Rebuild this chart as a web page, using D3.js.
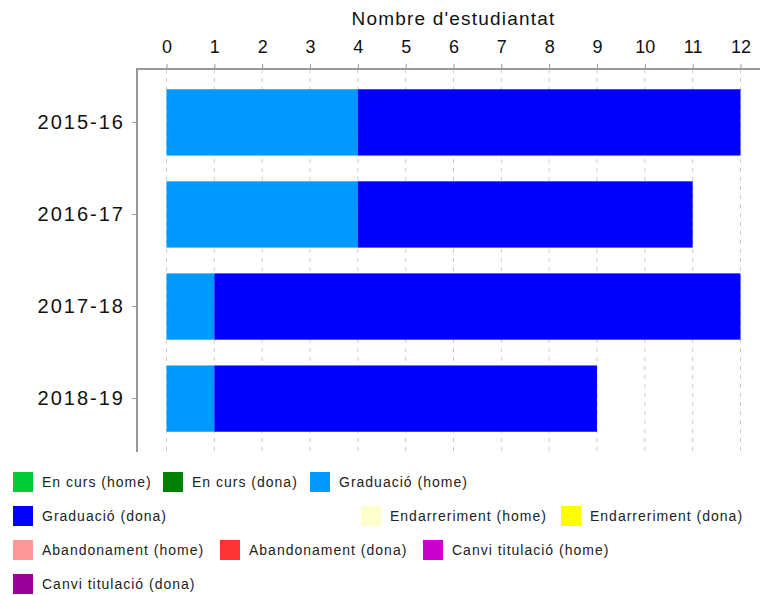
<!DOCTYPE html>
<html>
<head>
<meta charset="utf-8">
<script src="https://cdn.jsdelivr.net/npm/d3@7"></script>
<style>
  body { margin: 0; background: #fff; }
  text { font-family: "Liberation Sans", Arial, sans-serif; fill: #222; }
</style>
</head>
<body>
<div id="chart"></div>
<script>
// data
const years = ["2015-16", "2016-17", "2017-18", "2018-19"];
const seriesKeys = [
    "En curs (home)", "En curs (dona)", "Graduació (home)", "Graduació (dona)",
    "Endarreriment (home)", "Endarreriment (dona)", "Abandonament (home)",
    "Abandonament (dona)", "Canvi titulació (home)", "Canvi titulació (dona)"
];
const seriesColors = [
    "#00CC33", "#008000", "#0099FF", "#0000FF", "#FFFFCC",
    "#FFFF00", "#FF9999", "#FF3333", "#CC00CC", "#990099"
];
const enCursHome = [0, 0, 0, 0];
const enCursDona = [0, 0, 0, 0];
const graduacioHome = [4, 4, 1, 1];
const graduacioDona = [8, 7, 11, 8];
const endarrerimentHome = [0, 0, 0, 0];
const endarrerimentDona = [0, 0, 0, 0];
const abandonamentHome = [0, 0, 0, 0];
const abandonamentDona = [0, 0, 0, 0];
const canviHome = [0, 0, 0, 0];
const canviDona = [0, 0, 0, 0];
const xTicks = [0, 1, 2, 3, 4, 5, 6, 7, 8, 9, 10, 11, 12];
const axisTitle = "Nombre d'estudiantat";

const seriesValues = [enCursHome, enCursDona, graduacioHome, graduacioDona,
    endarrerimentHome, endarrerimentDona, abandonamentHome, abandonamentDona,
    canviHome, canviDona];

const rows = years.map((y, i) => {
    const r = { year: y };
    seriesKeys.forEach((k, j) => r[k] = seriesValues[j][i]);
    return r;
});

const width = 760, height = 595;
const plotLeft = 137, plotTop = 69, plotRight = 740.5, plotBottom = 452;

const svg = d3.select("#chart").append("svg")
    .attr("width", width)
    .attr("height", height);

const x = d3.scaleLinear().domain([0, 12]).range([166.5, plotRight]);
const y = d3.scaleBand().domain(years).range([plotTop, plotBottom])
    .paddingInner(0.28).paddingOuter(0.22);

// grid lines
svg.append("g").selectAll("line")
    .data(xTicks)
    .enter().append("line")
    .attr("x1", d => x(d)).attr("x2", d => x(d))
    .attr("y1", plotTop).attr("y2", plotBottom)
    .attr("stroke", "#ccc")
    .attr("stroke-dasharray", "4,5");

// stacked bars
const stack = d3.stack().keys(seriesKeys);
const layers = stack(rows);

svg.append("g").selectAll("g")
    .data(layers)
    .enter().append("g")
    .attr("fill", (d, i) => seriesColors[i])
    .selectAll("rect")
    .data(d => d.filter(p => p[1] > p[0]))
    .enter().append("rect")
    .attr("x", d => x(d[0]))
    .attr("width", d => x(d[1]) - x(d[0]))
    .attr("y", d => y(d.data.year))
    .attr("height", y.bandwidth());

// top axis
const xAxis = svg.append("g")
    .attr("transform", "translate(0," + plotTop + ")")
    .call(d3.axisTop(x).tickValues(xTicks).tickSize(5).tickPadding(11).tickFormat(d3.format("d")));
xAxis.select(".domain").remove();
xAxis.selectAll(".tick line").attr("stroke", "#999");
xAxis.selectAll("text")
    .attr("font-size", 18)
    .style("font-family", "'Liberation Sans Narrow', 'Arial Narrow', 'Liberation Sans', sans-serif")
    .style("fill", "#111");

svg.append("line")
    .attr("x1", plotLeft - 1).attr("x2", width)
    .attr("y1", plotTop).attr("y2", plotTop)
    .attr("stroke", "#999").attr("stroke-width", 2);

// left axis
const yAxis = svg.append("g")
    .attr("transform", "translate(" + plotLeft + ",0)")
    .call(d3.axisLeft(y).tickSize(5).tickPadding(7));
yAxis.select(".domain").remove();
yAxis.selectAll(".tick line").attr("stroke", "#999");
yAxis.selectAll("text").attr("font-size", 20).attr("letter-spacing", 2).style("fill", "#111");

svg.append("line")
    .attr("x1", plotLeft).attr("x2", plotLeft)
    .attr("y1", plotTop).attr("y2", plotBottom)
    .attr("stroke", "#999").attr("stroke-width", 2);

// axis title
svg.append("text")
    .attr("x", (x(0) + x(12)) / 2)
    .attr("y", 25)
    .attr("text-anchor", "middle")
    .attr("font-size", 19)
    .attr("letter-spacing", 1.2)
    .style("fill", "#111")
    .text(axisTitle);

// legend layout (row, x) per series
const legendRow = [0, 0, 0, 1, 1, 1, 2, 2, 2, 3];
const legendX = [13, 163, 310, 13, 361, 561, 13, 220, 423, 13];

const legend = svg.append("g").selectAll("g")
    .data(seriesKeys)
    .enter().append("g")
    .attr("transform", (d, i) => "translate(" + legendX[i] + "," + (472 + legendRow[i] * 34) + ")");

legend.append("rect")
    .attr("width", 20)
    .attr("height", 20)
    .attr("fill", (d, i) => seriesColors[i]);

legend.append("text")
    .attr("x", 29)
    .attr("y", 15)
    .attr("font-size", 14)
    .attr("letter-spacing", 1)
    .text(d => d);
</script>
</body>
</html>
